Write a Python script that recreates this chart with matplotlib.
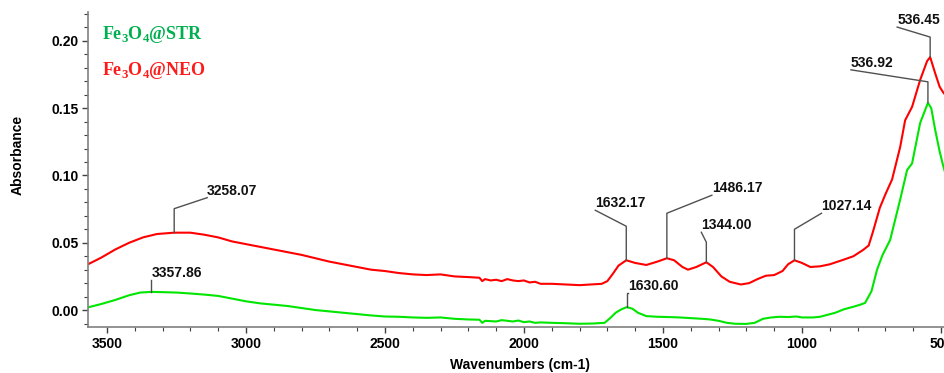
import numpy as np
import matplotlib
matplotlib.use("Agg")
import matplotlib.pyplot as plt
from matplotlib.ticker import MultipleLocator, FormatStrFormatter
from matplotlib.lines import Line2D

plt.rcParams['font.family'] = ['Liberation Sans', 'DejaVu Sans']
plt.rcParams['mathtext.fontset'] = 'custom'
plt.rcParams['mathtext.rm'] = 'Liberation Serif:bold'
plt.rcParams['mathtext.bf'] = 'Liberation Serif:bold'

# ---------------- data ----------------
neo_wn = [3568, 3520, 3470, 3420, 3370, 3320, 3258, 3200, 3150, 3100, 3050, 3000,
          2950, 2900, 2850, 2800, 2750, 2700, 2650, 2600, 2550, 2500, 2450, 2400,
          2350, 2300, 2250, 2200, 2160, 2150, 2140, 2120, 2100, 2080, 2060, 2040,
          2020, 2000, 1980, 1960, 1940, 1900, 1850, 1800, 1760, 1720, 1700, 1680,
          1660, 1632, 1600, 1560, 1520, 1486, 1460, 1430, 1410, 1380, 1344, 1320,
          1290, 1260, 1220, 1190, 1160, 1130, 1100, 1070, 1050, 1027, 1000, 970,
          935, 900, 852, 815, 780, 760, 745, 720, 700, 676, 647, 629, 604,
          575, 550, 539, 521, 505, 493, 485]
neo_abs = [0.034, 0.039, 0.045, 0.050, 0.054, 0.0565, 0.0575, 0.0575, 0.056, 0.054, 0.051, 0.049,
           0.047, 0.045, 0.043, 0.041, 0.0385, 0.036, 0.034, 0.032, 0.030, 0.029, 0.0275, 0.0265,
           0.026, 0.0265, 0.025, 0.0245, 0.024, 0.0215, 0.023, 0.022, 0.0225, 0.0215, 0.023, 0.022,
           0.0215, 0.022, 0.0205, 0.021, 0.0195, 0.0195, 0.019, 0.0185, 0.019, 0.0195, 0.0215, 0.027,
           0.033, 0.037, 0.035, 0.0335, 0.036, 0.0385, 0.037, 0.032, 0.030, 0.032, 0.0355, 0.032,
           0.025, 0.021, 0.019, 0.020, 0.023, 0.0255, 0.026, 0.029, 0.034, 0.037, 0.035, 0.032,
           0.0325, 0.034, 0.0373, 0.040, 0.0447, 0.048, 0.058, 0.076, 0.086, 0.097, 0.121, 0.141, 0.151,
           0.171, 0.185, 0.188, 0.176, 0.166, 0.162, 0.160]

str_wn = [3568, 3520, 3470, 3420, 3380, 3340, 3300, 3250, 3200, 3150, 3100, 3050,
          3000, 2950, 2900, 2850, 2800, 2750, 2700, 2650, 2600, 2550, 2500, 2450,
          2400, 2350, 2300, 2250, 2200, 2160, 2150, 2140, 2100, 2080, 2060, 2040,
          2020, 2000, 1980, 1960, 1940, 1900, 1850, 1800, 1750, 1710, 1690, 1670,
          1650, 1630, 1610, 1590, 1560, 1520, 1480, 1440, 1400, 1360, 1330, 1300,
          1270, 1240, 1200, 1170, 1140, 1110, 1080, 1050, 1020, 1000, 960, 935,
          880, 850, 816, 790, 773, 750, 730, 710, 683, 647, 622, 604,
          575, 547, 535, 521, 505, 493, 485]
str_abs = [0.002, 0.0045, 0.0075, 0.011, 0.013, 0.0135, 0.0133, 0.013, 0.0123, 0.0115, 0.0105, 0.0085,
           0.0065, 0.005, 0.004, 0.003, 0.0015, 0.0, -0.001, -0.002, -0.003, -0.004, -0.0048, -0.005,
           -0.0055, -0.0058, -0.0055, -0.0065, -0.007, -0.0072, -0.0095, -0.008, -0.0085, -0.0075, -0.008, -0.0085,
           -0.0078, -0.009, -0.0085, -0.0095, -0.0092, -0.0095, -0.0098, -0.0102, -0.0100, -0.0095, -0.006, -0.002,
           0.0005, 0.0022, 0.001, -0.002, -0.0045, -0.005, -0.0052, -0.0055, -0.006, -0.0065, -0.007, -0.008,
           -0.0095, -0.0102, -0.0103, -0.0095, -0.0065, -0.0055, -0.005, -0.0052, -0.0048, -0.0055, -0.0055, -0.005,
           -0.002, 0.0005, 0.0024, 0.004, 0.0053, 0.014, 0.030, 0.041, 0.052, 0.082, 0.104, 0.109,
           0.139, 0.154, 0.150, 0.134, 0.118, 0.108, 0.102]

# peak labels
neo_peaks = ["3258.07", "1632.17", "1486.17", "1344.00", "1027.14", "536.45"]
neo_peak_wn = [3258, 1632, 1486, 1344, 1027, 539]
neo_peak_abs = [0.0575, 0.037, 0.0385, 0.0355, 0.037, 0.188]
str_peaks = ["3357.86", "1630.60", "536.92"]
str_peak_wn = [3340, 1630, 547]
str_peak_abs = [0.0135, 0.0022, 0.154]

yticks = [0.00, 0.05, 0.10, 0.15, 0.20]
xticks = [3500, 3000, 2500, 2000, 1500, 1000, 500]

# ---------------- figure ----------------
W, H, DPI = 945, 373, 100
fig = plt.figure(figsize=(W / DPI, H / DPI), dpi=DPI)
ax = fig.add_axes([88 / W, 1 - 327 / H, (946 - 88) / W, (327 - 12) / H])

red = '#ff0000'
green = '#00e600'
ax.plot(neo_wn, neo_abs, color=red, lw=1.5)
ax.plot(str_wn, str_abs, color=green, lw=1.5)

ax.set_xlim(3568, 482)
ax.set_ylim(-0.0126, 0.2215)
ax.set_xticks(xticks)
ax.set_yticks(yticks)
ax.yaxis.set_major_formatter(FormatStrFormatter('%.2f'))
ax.xaxis.set_minor_locator(MultipleLocator(100))
ax.yaxis.set_minor_locator(MultipleLocator(0.01))
for s in ['top', 'right']:
    ax.spines[s].set_visible(False)
for s in ['left', 'bottom']:
    ax.spines[s].set_color('#808080')
    ax.spines[s].set_linewidth(1.2)
ax.tick_params(axis='both', which='major', direction='out', length=4, width=1,
               color='#404040', labelsize=10, pad=3)
ax.tick_params(axis='both', which='minor', direction='out', length=3, width=0.8,
               color='#404040')
for lab in ax.get_xticklabels() + ax.get_yticklabels():
    lab.set_fontweight('bold')

fig.text(520 / W, 1 - 365 / H, "Wavenumbers (cm-1)", ha='center', va='center',
         fontsize=10, fontweight='bold')
fig.text(18 / W, 1 - 155 / H, "Absorbance", ha='center', va='center',
         rotation=90, fontsize=10, fontweight='bold')

# legend-like labels
ax.text(0.0165, 0.93, r"Fe$_{\mathbf{3}}$O$_{\mathbf{4}}$@STR", transform=ax.transAxes,
        color='#00b050', fontsize=13, fontweight='bold', family='Liberation Serif',
        ha='left', va='center')
ax.text(0.0165, 0.815, r"Fe$_{\mathbf{3}}$O$_{\mathbf{4}}$@NEO", transform=ax.transAxes,
        color='#ff1a1a', fontsize=13, fontweight='bold', family='Liberation Serif',
        ha='left', va='center')

# annotation leaders: (vertical rise px, diag dx px, diag dy px) in screen pixels (y up)
leader_neo = [(24, 33, 11), (34, -31, 16), (45, 45, 18), (20, -5, 10), (31, 27, 16), (20, -33, 10)]
leader_str = [(12, 0, 0), (14, 1, 0), (21, -77, 12)]

fig.canvas.draw()


def annotate(label, wn, val, leader):
    px, py = ax.transData.transform((wn, val))
    up, dx, dy = leader
    cy = py + up
    ex, ey = px + dx, cy + dy
    ln = Line2D([px, px, ex], [py, cy, ey], transform=None, color='#505050', lw=1.0)
    fig.add_artist(ln)
    fig.text(ex / W, ey / H, label, ha='left', va='bottom', fontsize=10,
             fontweight='bold', color='#111111')


for lab, wn, v, ld in zip(neo_peaks, neo_peak_wn, neo_peak_abs, leader_neo):
    annotate(lab, wn, v, ld)
for lab, wn, v, ld in zip(str_peaks, str_peak_wn, str_peak_abs, leader_str):
    annotate(lab, wn, v, ld)

fig.savefig("out.png", dpi=DPI)
